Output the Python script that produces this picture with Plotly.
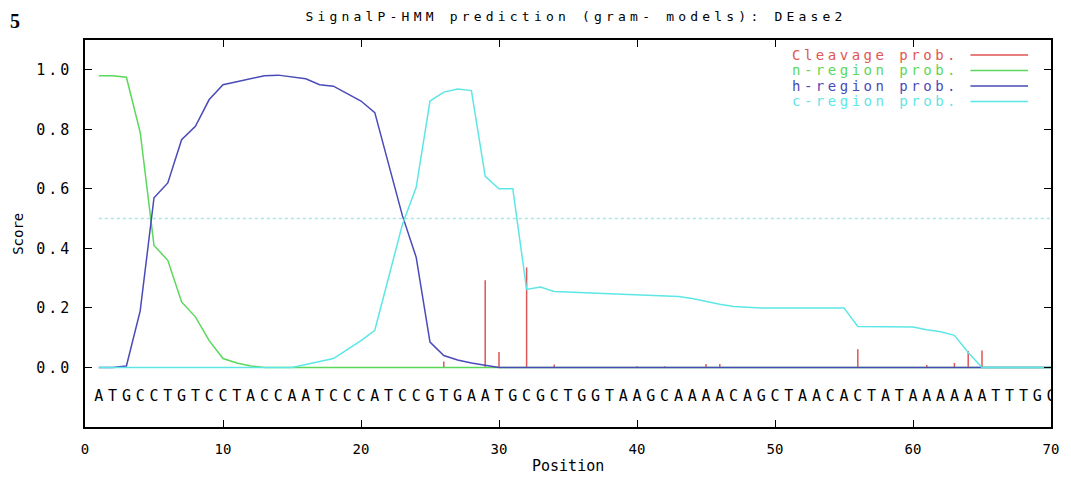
import plotly.graph_objects as go

positions = list(range(1, 71))
sequence = "ATGCCTGTCCTACCAATCCCATCCGTGAATGCGCTGGTAAGCAAAACAGCTAACACTATAAAAAATTTGC"

n_region = [0.98, 0.98, 0.975, 0.79, 0.41, 0.36, 0.22, 0.17, 0.09, 0.03,
            0.015, 0.005] + [0.0] * 58

h_region = [0.0, 0.0, 0.005, 0.19, 0.57, 0.62, 0.765, 0.81, 0.90, 0.95,
            0.96, 0.97, 0.98, 0.982, 0.975, 0.97, 0.95, 0.945, 0.92, 0.895,
            0.856, 0.68, 0.51, 0.37, 0.085, 0.04, 0.025, 0.015, 0.008] + [0.0] * 41

c_region = [0.0] * 15 + [0.01, 0.02, 0.03, 0.06, 0.09, 0.125, 0.305, 0.48, 0.605, 0.895,
            0.925, 0.935, 0.93, 0.642, 0.60, 0.60, 0.262, 0.27, 0.255, 0.253,
            0.252, 0.25, 0.248, 0.246, 0.244, 0.242, 0.24, 0.238, 0.232, 0.222,
            0.212, 0.205, 0.202, 0.2, 0.2, 0.2, 0.2, 0.2, 0.2, 0.2,
            0.138, 0.137, 0.137, 0.137, 0.136, 0.127, 0.12, 0.108, 0.05, 0.0,
            0.0, 0.0, 0.0, 0.0, 0.0]

cleave_pos = [26, 29, 30, 32, 34, 40, 42, 45, 46, 56, 61, 63, 64, 65]
cleave_prob = [0.02, 0.293, 0.052, 0.336, 0.01, 0.004, 0.004, 0.012, 0.012, 0.061,
               0.008, 0.015, 0.055, 0.057]

threshold = 0.5
y_ticks = [0.0, 0.2, 0.4, 0.6, 0.8, 1.0]
x_ticks = [0, 10, 20, 30, 40, 50, 60, 70]

names = ['Cleavage prob.', 'n-region prob.', 'h-region prob.', 'c-region prob.']
colors = ['#e05555', '#5ad85a', '#4a4ab8', '#5ee6e6']

# the page has an 8px body margin, so the figure is laid out 8px in
OFF = 8
W, H = 1071 - OFF, 478 - OFF
L, R, T, B = 85 - OFF, 15, 40 - OFF, 51
pw, ph = W - L - R, H - T - B

def px(x):
    # page pixel -> paper fraction
    return (x - OFF - L) / pw

def py(y):
    return (H - B - (y - OFF)) / ph

def wide(s, sp=4.0):
    return '<span style="letter-spacing:%.1fpx">%s</span>' % (sp, s)

mono = 'DejaVu Sans Mono'

fig = go.Figure()

cx, cy = [], []
for p, v in zip(cleave_pos, cleave_prob):
    cx += [p, p, None]
    cy += [0, v, None]
fig.add_trace(go.Scatter(x=cx, y=cy, mode='lines', line=dict(color=colors[0], width=1.5), name=names[0]))
fig.add_trace(go.Scatter(x=positions, y=n_region, mode='lines', line=dict(color=colors[1], width=1.5), name=names[1]))
fig.add_trace(go.Scatter(x=positions, y=h_region, mode='lines', line=dict(color=colors[2], width=1.5), name=names[2]))
fig.add_trace(go.Scatter(x=positions, y=c_region, mode='lines', line=dict(color=colors[3], width=1.5), name=names[3]))

# sequence letters under the curves
fig.add_trace(go.Scatter(x=positions, y=[-0.1] * len(positions), mode='text', text=list(sequence),
                         textfont=dict(family=mono, size=15, color='black'), hoverinfo='skip'))

fig.add_shape(type='line', x0=positions[0], x1=positions[-1], y0=threshold, y1=threshold,
              line=dict(color='#a8e4e4', width=1.5, dash='dot'))

# legend (text left, line sample right)
for i, (nm, c) in enumerate(zip(names, colors)):
    yy = 55 + i * 15.5
    fig.add_annotation(x=px(966), y=py(yy), xref='paper', yref='paper', text=wide(nm, 3.5),
                       showarrow=False, xanchor='right', yanchor='middle',
                       font=dict(family=mono, size=14, color=c))
    fig.add_shape(type='line', xref='paper', yref='paper', x0=px(975), x1=px(1033),
                  y0=py(yy), y1=py(yy), line=dict(color=c, width=1.5))

fig.add_annotation(x=px(17), y=0.5, xref='paper', yref='paper', text='Score', textangle=-90,
                   showarrow=False, xanchor='center', yanchor='middle',
                   font=dict(family=mono, size=14, color='black'))
fig.add_annotation(x=0.5, y=py(466), xref='paper', yref='paper', text='Position',
                   showarrow=False, xanchor='center', yanchor='middle',
                   font=dict(family=mono, size=15, color='black'))
fig.add_annotation(x=px(OFF), y=py(OFF), xref='paper', yref='paper', text='<b>5</b>',
                   showarrow=False, xanchor='left', yanchor='top',
                   font=dict(family='Liberation Serif', size=20, color='black'))

fig.update_layout(
    width=W, height=H,
    margin=dict(l=L, r=R, t=T, b=B),
    paper_bgcolor='white', plot_bgcolor='white',
    showlegend=False,
    title=dict(text=wide('SignalP-HMM prediction (gram- models): DEase2', 4.2), x=(576 - OFF) / W, xanchor='center',
               y=1 - (16 - OFF) / H, yanchor='middle', font=dict(family=mono, size=13, color='black')),
)
fig.update_xaxes(range=[0, 70], tickvals=x_ticks, ticks='inside', ticklen=7, tickcolor='black',
                 showgrid=False, zeroline=False, showline=True, linecolor='black', linewidth=1.5,
                 mirror='ticks', ticklabelstandoff=8, tickfont=dict(family=mono, size=14, color='black'))
fig.update_yaxes(range=[-0.2, 1.1], tickvals=y_ticks, ticktext=[wide('%.1f' % v, 3) for v in y_ticks],
                 ticks='inside', ticklen=7, tickcolor='black',
                 showgrid=False, zeroline=False, showline=True, linecolor='black', linewidth=1.5,
                 mirror='ticks', ticklabelstandoff=8, tickfont=dict(family=mono, size=15, color='black'))

fig.write_html("out.html")
